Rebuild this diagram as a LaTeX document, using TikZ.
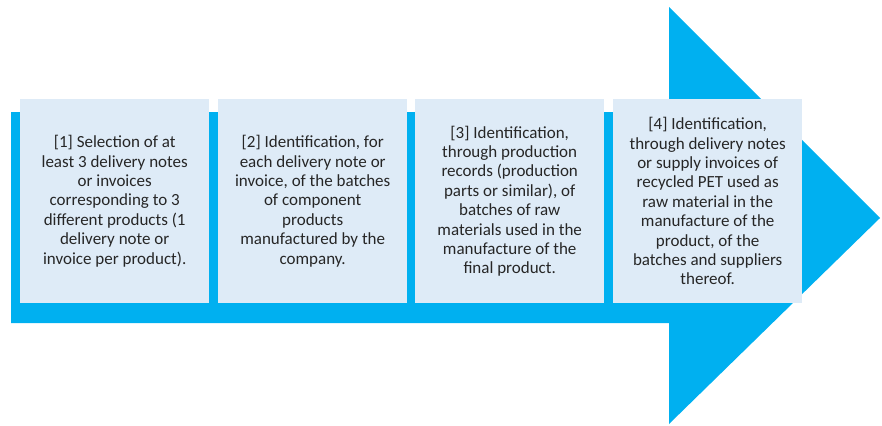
\documentclass[tikz,border=0pt]{standalone}
\usepackage{fontspec}
\setmainfont{Carlito}
\definecolor{arrowblue}{HTML}{00B0F0}
\definecolor{boxblue}{HTML}{DEEBF7}
\definecolor{txt}{HTML}{262626}
\begin{document}
\begin{tikzpicture}[x=1pt,y=-1pt,
  stepbox/.style={fill=boxblue, draw=none, minimum width=189pt, minimum height=204pt,
    anchor=north west, inner sep=0pt, align=center, text=txt,
    font=\fontsize{17}{19.4}\selectfont}]
\useasboundingbox (0,0) rectangle (882,425);
\fill[arrowblue] (11,112) -- (669,112) -- (669,7) -- (880,218) -- (669,424) -- (669,323) -- (11,323) -- cycle;
\node[stepbox] (s1) at (20,99) {[1] Selection of at\\least 3 delivery notes\\or invoices\\corresponding to 3\\different products (1\\delivery note or\\invoice per product).};
\node[stepbox] (s2) at (218,99) {[2] Identification, for\\each delivery note or\\invoice, of the batches\\of component\\products\\manufactured by the\\company.};
\node[stepbox] (s3) at (415,99) {[3] Identification,\\through production\\records (production\\parts or similar), of\\batches of raw\\materials used in the\\manufacture of the\\final product.};
\node[stepbox] (s4) at (613,99) {[4] Identification,\\through delivery notes\\or supply invoices of\\recycled PET used as\\raw material in the\\manufacture of the\\product, of the\\batches and suppliers\\thereof.};
\end{tikzpicture}
\end{document}
